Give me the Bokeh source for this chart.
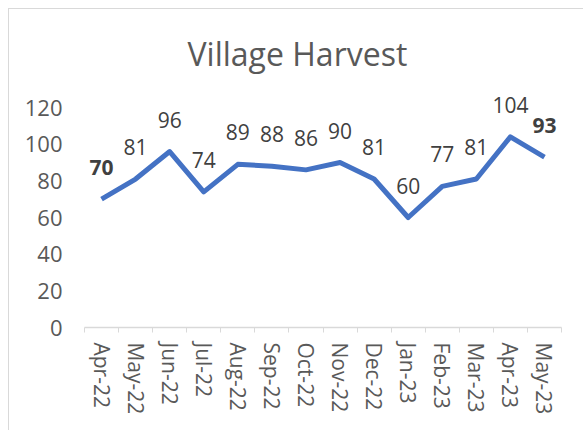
from bokeh.plotting import figure
from bokeh.models import ColumnDataSource, LabelSet, FixedTicker, Range1d
from bokeh.core.properties import value
from bokeh.embed import file_html
from bokeh.resources import INLINE

months = ["Apr-22", "May-22", "Jun-22", "Jul-22", "Aug-22", "Sep-22", "Oct-22",
          "Nov-22", "Dec-22", "Jan-23", "Feb-23", "Mar-23", "Apr-23", "May-23"]
harvest = [70, 81, 96, 74, 89, 88, 86, 90, 81, 60, 77, 81, 104, 93]
label_styles = ["bold"] + ["normal"] * 12 + ["bold"]
y_ticks = [0, 20, 40, 60, 80, 100, 120]

xs = list(range(len(months)))
src = ColumnDataSource(dict(x=xs, y=harvest, lbl=[str(v) for v in harvest], style=label_styles))

FONT = "Open Sans"

p = figure(width=575, height=422, output_backend="svg", toolbar_location=None,
           frame_width=477, frame_height=248,
           x_range=Range1d(-0.5, len(months) - 0.5), y_range=Range1d(0, 135.3),
           min_border_left=76, min_border_right=22, min_border_top=71, min_border_bottom=103,
           title="Village Harvest")
p.styles = {"margin-left": "8px", "margin-top": "8px",
            "box-shadow": "inset 1px 1px 0 0 #d9d9d9"}
p.border_fill_color = None
p.background_fill_color = None
p.outline_line_color = None
p.xgrid.grid_line_color = None
p.ygrid.grid_line_color = None

p.title.text_font = FONT
p.title.text_font_size = "32px"
p.title.text_font_style = "normal"
p.title.text_color = "#595959"
p.title.align = "left"
p.title.offset = 103

p.line("x", "y", source=src, line_color="#4472C4", line_width=5, line_join="round")

labels = LabelSet(x="x", y="y", text="lbl", source=src, y_offset=32,
                  text_align="center", text_baseline="middle",
                  text_font=value(FONT), text_font_size="21px", text_color="#404040",
                  text_font_style="style")
p.add_layout(labels)

xa = p.xaxis[0]
xa.ticker = FixedTicker(ticks=xs, minor_ticks=[i - 0.5 for i in range(len(months) + 1)])
xa.major_label_overrides = {i: m for i, m in enumerate(months)}
xa.major_label_orientation = "vertical"
xa.major_tick_out = 0
xa.major_tick_in = 0
xa.minor_tick_out = 5
xa.minor_tick_in = 0
xa.minor_tick_line_color = "#d9d9d9"
xa.axis_line_color = "#d9d9d9"
xa.axis_line_width = 1.5
xa.major_label_standoff = 10
xa.major_label_text_font = FONT
xa.major_label_text_font_size = "21px"
xa.major_label_text_color = "#595959"

ya = p.yaxis[0]
ya.ticker = FixedTicker(ticks=y_ticks)
ya.axis_line_color = None
ya.major_tick_line_color = None
ya.minor_tick_line_color = None
ya.major_tick_out = 0
ya.major_label_standoff = 22
ya.major_label_text_font = FONT
ya.major_label_text_font_size = "22px"
ya.major_label_text_color = "#595959"

open("out.html", "w").write(file_html(p, INLINE))
